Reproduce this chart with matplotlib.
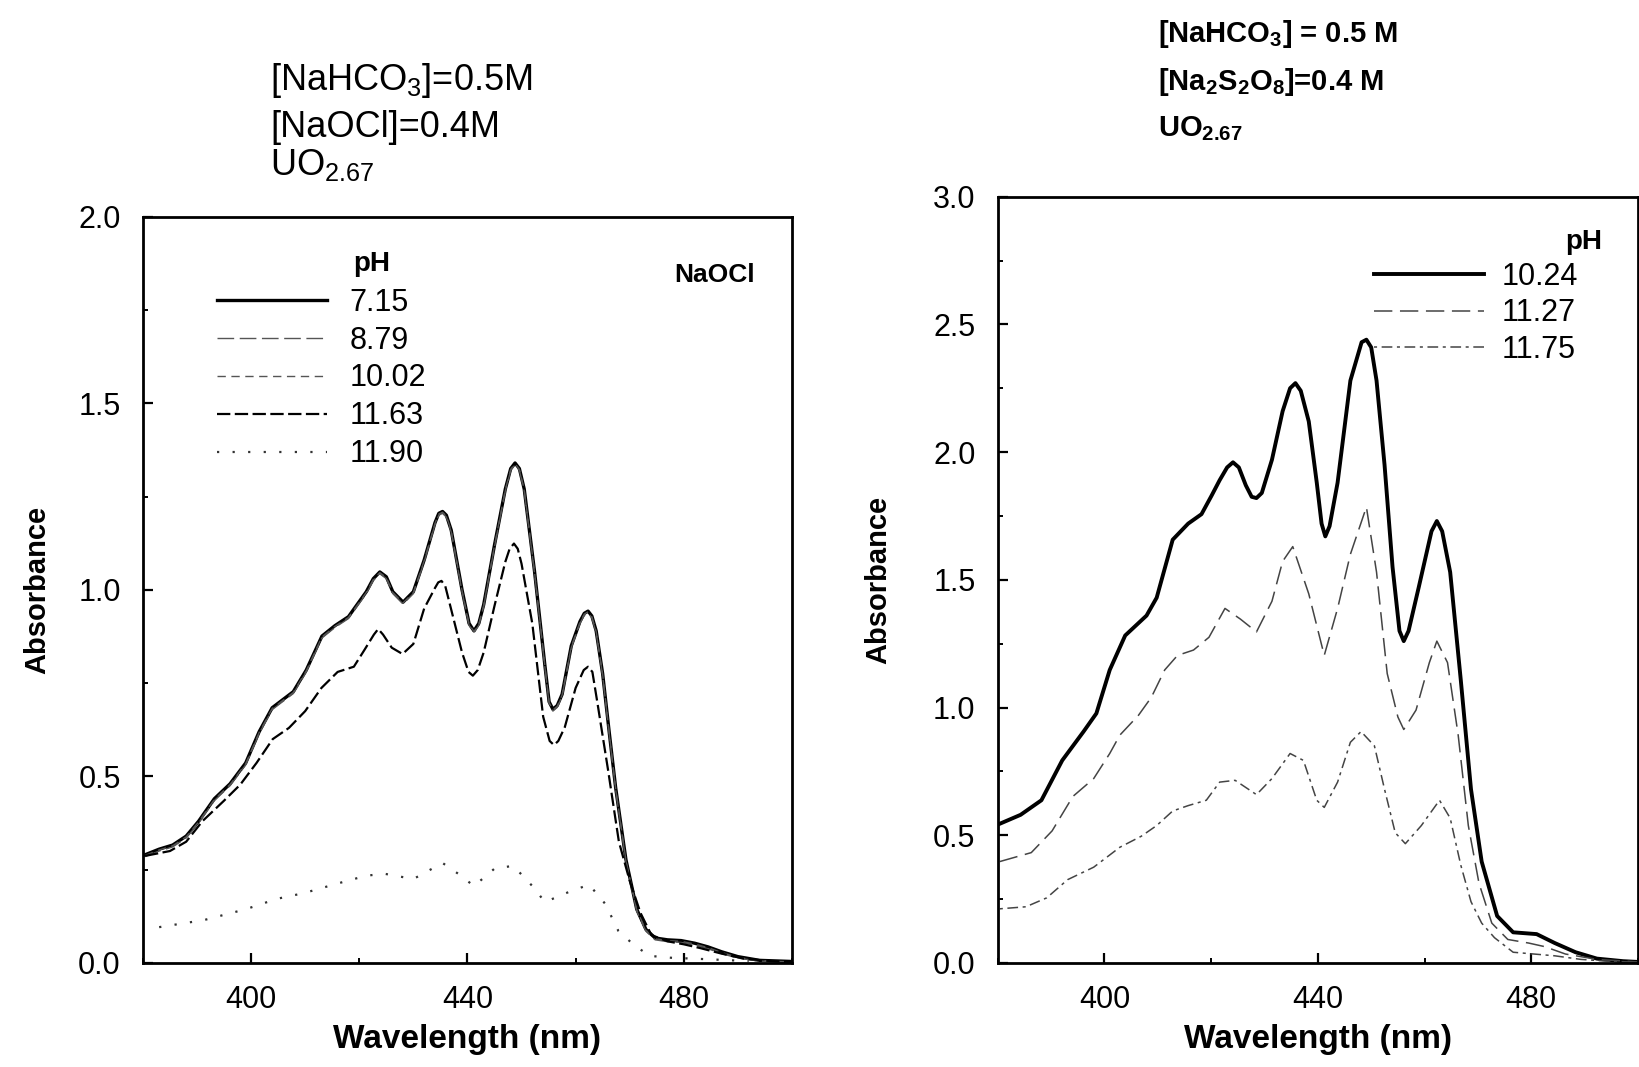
import matplotlib
matplotlib.use('Agg')
import matplotlib.pyplot as plt
from matplotlib.ticker import MultipleLocator

plt.rcParams['font.family'] = ['Liberation Sans', 'DejaVu Sans']
plt.rcParams['mathtext.default'] = 'regular'

# ---- left panel: NaOCl ----
wl_a = [380.4, 383, 385.5, 388, 390.3, 393.2, 396.1, 399, 401.5, 403.9, 407.8, 410.2,
        413.1, 415.5, 418, 421.3, 422.6, 423.8, 425, 426.2, 428.1, 430, 432, 434, 434.7,
        435.4, 436.1, 437, 439, 440.3, 441.2, 442.1, 443, 445, 447, 448, 448.8, 449.6,
        450.5, 452.4, 454.3, 455.1, 455.8, 456.6, 457.5, 459.2, 460.8, 461.6, 462.3, 463,
        463.8, 465, 466.2, 467.4, 469.3, 471.3, 473, 474.7, 477, 479.5, 482, 484.5, 487,
        490, 494, 500]
abs_715 = [0.29, 0.305, 0.316, 0.34, 0.38, 0.44, 0.48, 0.536, 0.62, 0.684, 0.727, 0.785,
           0.876, 0.904, 0.928, 0.995, 1.03, 1.048, 1.035, 0.995, 0.967, 0.995, 1.08, 1.18, 1.205,
           1.21, 1.2, 1.16, 1.0, 0.91, 0.89, 0.91, 0.96, 1.12, 1.27, 1.325, 1.34, 1.325,
           1.27, 1.05, 0.80, 0.70, 0.68, 0.69, 0.72, 0.85, 0.915, 0.937, 0.943, 0.93,
           0.89, 0.775, 0.62, 0.47, 0.277, 0.144, 0.09, 0.067, 0.062, 0.06, 0.053, 0.043, 0.03,
           0.017, 0.007, 0.004]
abs_879 = [0.285, 0.30, 0.311, 0.335, 0.375, 0.435, 0.475, 0.531, 0.615, 0.679, 0.722, 0.78,
           0.871, 0.899, 0.923, 0.99, 1.025, 1.043, 1.03, 0.99, 0.962, 0.99, 1.075, 1.175, 1.2,
           1.205, 1.195, 1.155, 0.995, 0.905, 0.885, 0.905, 0.955, 1.115, 1.265, 1.32, 1.335, 1.32,
           1.265, 1.045, 0.795, 0.695, 0.675, 0.685, 0.715, 0.845, 0.91, 0.932, 0.938, 0.925,
           0.885, 0.77, 0.615, 0.465, 0.272, 0.139, 0.085, 0.062, 0.057, 0.055, 0.048, 0.038, 0.025,
           0.013, 0.005, 0.003]
abs_1002 = [0.288, 0.303, 0.314, 0.338, 0.378, 0.438, 0.478, 0.534, 0.618, 0.682, 0.725, 0.783,
            0.874, 0.902, 0.926, 0.993, 1.028, 1.046, 1.033, 0.993, 0.965, 0.993, 1.078, 1.178, 1.203,
            1.208, 1.198, 1.158, 0.998, 0.908, 0.888, 0.908, 0.958, 1.118, 1.268, 1.323, 1.338, 1.323,
            1.268, 1.048, 0.798, 0.698, 0.678, 0.688, 0.718, 0.848, 0.913, 0.935, 0.941, 0.928,
            0.888, 0.773, 0.618, 0.468, 0.275, 0.142, 0.088, 0.065, 0.06, 0.058, 0.051, 0.041, 0.028,
            0.015, 0.006, 0.003]
wl_1163 = [380.4, 385, 388, 391, 395, 398, 401, 404, 407, 410, 413, 416, 419, 421, 422.7,
           423.5, 424.4, 426, 428, 430, 432, 434, 434.6, 435.2, 435.9, 437, 439, 440.2, 441,
           441.9, 443, 445, 447, 447.8, 448.6, 449.3, 450, 452, 454, 455.2, 456, 456.8, 458,
           460, 461.5, 462.3, 463.1, 464, 466, 468, 470, 472, 474, 477, 480, 483, 487, 491, 496, 500]
abs_1163 = [0.287, 0.30, 0.325, 0.38, 0.435, 0.478, 0.536, 0.60, 0.63, 0.675, 0.737, 0.78,
            0.794, 0.84, 0.88, 0.895, 0.88, 0.845, 0.828, 0.855, 0.95, 1.005, 1.02, 1.024, 1.01,
            0.947, 0.832, 0.78, 0.77, 0.785, 0.832, 0.957, 1.075, 1.11, 1.124, 1.11, 1.07, 0.909,
            0.66, 0.595, 0.584, 0.595, 0.632, 0.737, 0.785, 0.794, 0.78, 0.70, 0.517, 0.325, 0.22,
            0.134, 0.075, 0.058, 0.05, 0.04, 0.025, 0.012, 0.005, 0.003]
wl_1190 = [383, 391.3, 399, 404.8, 409.7, 416.5, 421.3, 424.7, 430, 435.4, 438.8, 441.2,
           445.1, 448.5, 452.4, 454.3, 458.7, 462.5, 465.5, 467.9, 470.8, 473.7, 477.6, 484.4, 492]
abs_1190 = [0.096, 0.115, 0.144, 0.172, 0.187, 0.215, 0.234, 0.239, 0.225, 0.268, 0.234, 0.206,
            0.254, 0.26, 0.2, 0.163, 0.19, 0.21, 0.158, 0.086, 0.048, 0.019, 0.014, 0.01, 0.005]

ph_left = ['7.15', '8.79', '10.02', '11.63', '11.90']

# ---- right panel: Na2S2O8 ----
wl_1024 = [380.4, 384.3, 388.2, 392.1, 396.1, 398.5, 401, 403.9, 407.9, 409.8, 412.8, 415.7,
           418.2, 420.1, 421.6, 423, 424.1, 425.2, 426.5, 427.6, 428.5, 429.5, 431.4, 433.4,
           434.8, 435.8, 436.8, 438.3, 439.8, 440.7, 441.4, 442.2, 443.7, 446.1, 448.2, 449.1,
           450, 451, 452.5, 454, 455.3, 456.1, 457, 458.9, 461.3, 462.3, 463.3, 464.8, 466.8,
           468.7, 470.7, 473.6, 476.6, 481, 484.4, 488.3, 492.3, 497.2, 500]
abs_1024 = [0.545, 0.58, 0.637, 0.793, 0.906, 0.977, 1.147, 1.282, 1.36, 1.43, 1.657, 1.72,
            1.757, 1.83, 1.89, 1.94, 1.96, 1.94, 1.87, 1.825, 1.82, 1.84, 1.97, 2.16,
            2.25, 2.27, 2.24, 2.12, 1.88, 1.72, 1.67, 1.71, 1.88, 2.28, 2.43, 2.44,
            2.41, 2.28, 1.95, 1.55, 1.3, 1.26, 1.30, 1.47, 1.69, 1.73, 1.69, 1.53, 1.105,
            0.68, 0.397, 0.184, 0.12, 0.113, 0.078, 0.042, 0.017, 0.007, 0.004]
wl_1127 = [380.4, 386.3, 390.2, 394.1, 398, 401, 402.9, 406.4, 408.8, 411.3, 413.7, 416.7,
           419.6, 422.6, 425.5, 428.5, 431.4, 433.4, 435.3, 438.3, 441.2, 443.7, 446.1, 449.1,
           451, 453, 455, 456.1, 458.4, 460.9, 462.3, 464.3, 466.3, 468.2, 470.2, 472.6,
           475.6, 479.5, 482.5, 486.4, 492.3, 500]
abs_1127 = [0.397, 0.432, 0.517, 0.652, 0.722, 0.82, 0.892, 0.97, 1.04, 1.147, 1.204, 1.225,
            1.275, 1.388, 1.346, 1.296, 1.416, 1.572, 1.63, 1.445, 1.204, 1.388, 1.60, 1.785,
            1.53, 1.133, 0.963, 0.914, 0.99, 1.176, 1.26, 1.176, 0.892, 0.538, 0.312, 0.156,
            0.092, 0.078, 0.064, 0.035, 0.014, 0.004]
wl_1175 = [380.4, 385.3, 389.2, 393.1, 398, 402.9, 406.9, 409.8, 412.8, 415.7, 419.1, 421.6,
           424.5, 428.5, 431.4, 434.8, 437.3, 439.8, 441.2, 443.7, 446.1, 448.1, 450.6, 452.5,
           454.5, 456.4, 459.4, 462.8, 464.8, 466.8, 468.7, 470.7, 473.1, 476.6, 480.5, 484.4,
           489.3, 494.2, 500]
abs_1175 = [0.212, 0.22, 0.255, 0.326, 0.375, 0.453, 0.496, 0.538, 0.595, 0.616, 0.637, 0.708,
            0.715, 0.659, 0.722, 0.82, 0.793, 0.637, 0.609, 0.708, 0.864, 0.906, 0.85, 0.68,
            0.51, 0.467, 0.538, 0.637, 0.567, 0.382, 0.24, 0.156, 0.099, 0.042, 0.035, 0.028,
            0.014, 0.007, 0.003]

ph_right = ['10.24', '11.27', '11.75']

fig = plt.figure(figsize=(16.39, 10.67), dpi=100)
ax1 = fig.add_axes([0.0872, 0.0975, 0.396, 0.6994])
ax2 = fig.add_axes([0.6087, 0.0975, 0.3907, 0.7182])

# curves, left
ax1.plot(wl_a, abs_715, color='black', lw=2.4, ls='-', label=ph_left[0])
ax1.plot(wl_a, abs_879, color='#555555', lw=1.0, ls=(0, (12, 4)), label=ph_left[1])
ax1.plot(wl_a, abs_1002, color='#555555', lw=1.0, ls=(0, (6, 4)), label=ph_left[2])
ax1.plot(wl_1163, abs_1163, color='black', lw=1.6, ls=(0, (6, 2)), label=ph_left[3])
ax1.plot(wl_1190, abs_1190, color='#333333', lw=1.6, ls=(0, (1, 6)), label=ph_left[4])

# curves, right
ax2.plot(wl_1024, abs_1024, color='black', lw=2.8, ls='-', label=ph_right[0])
ax2.plot(wl_1127, abs_1127, color='#444444', lw=1.1, ls=(0, (12, 5)), label=ph_right[1])
ax2.plot(wl_1175, abs_1175, color='#444444', lw=1.1, ls=(0, (2, 3, 7, 3)), label=ph_right[2])

for ax, ymax in [(ax1, 2.0), (ax2, 3.0)]:
    ax.set_xlim(380, 500)
    ax.set_ylim(0, ymax)
    ax.xaxis.set_major_locator(MultipleLocator(40))
    ax.xaxis.set_minor_locator(MultipleLocator(20))
    ax.yaxis.set_major_locator(MultipleLocator(0.5))
    ax.yaxis.set_minor_locator(MultipleLocator(0.25))
    ax.yaxis.set_major_formatter(plt.FormatStrFormatter('%.1f'))
    ax.tick_params(which='major', direction='in', length=7, width=1.6, labelsize=22, pad=16)
    ax.tick_params(which='minor', direction='in', length=3.5, width=1.4)
    ax.tick_params(top=False, right=False, which='both')
    for sp in ax.spines.values():
        sp.set_linewidth(2.0)
    ax.set_xlabel('Wavelength (nm)', fontsize=24, fontweight='bold', labelpad=6)

ax1.set_ylabel('Absorbance', fontsize=21, fontweight='bold', labelpad=19)
ax2.set_ylabel('Absorbance', fontsize=21, fontweight='bold', labelpad=29)

# legends
ax1.legend(loc='upper left', bbox_to_anchor=(0.114, 0.905), frameon=False,
           fontsize=22, handlelength=3.6, handletextpad=0.75, labelspacing=0.26,
           borderpad=0, borderaxespad=0)
ax1.text(0.352, 0.937, 'pH', transform=ax1.transAxes, ha='center', va='center',
         fontsize=20, fontweight='bold')
ax1.text(0.943, 0.922, 'NaOCl', transform=ax1.transAxes, ha='right', va='center',
         fontsize=19, fontweight='bold')

ax2.legend(loc='upper left', bbox_to_anchor=(0.587, 0.915), frameon=False,
           fontsize=22, handlelength=3.6, handletextpad=0.6, labelspacing=0.21,
           borderpad=0, borderaxespad=0)
ax2.text(0.915, 0.941, 'pH', transform=ax2.transAxes, ha='center', va='center',
         fontsize=20, fontweight='bold')

# condition labels above panels
fig.text(0.1647, 0.9157, '[NaHCO$_3$]=0.5M', fontsize=26, va='baseline')
fig.text(0.1647, 0.8716, '[NaOCl]=0.4M', fontsize=26, va='baseline')
fig.text(0.1647, 0.836, 'UO$_{2.67}$', fontsize=26, va='baseline')

fig.text(0.7065, 0.9609, '[NaHCO$_3$] = 0.5 M', fontsize=21, fontweight='bold', va='baseline')
fig.text(0.7065, 0.9157, '[Na$_2$S$_2$O$_8$]=0.4 M', fontsize=21, fontweight='bold', va='baseline')
fig.text(0.7065, 0.8719, 'UO$_{2.67}$', fontsize=21, fontweight='bold', va='baseline')

fig.savefig('out.png', dpi=100)
